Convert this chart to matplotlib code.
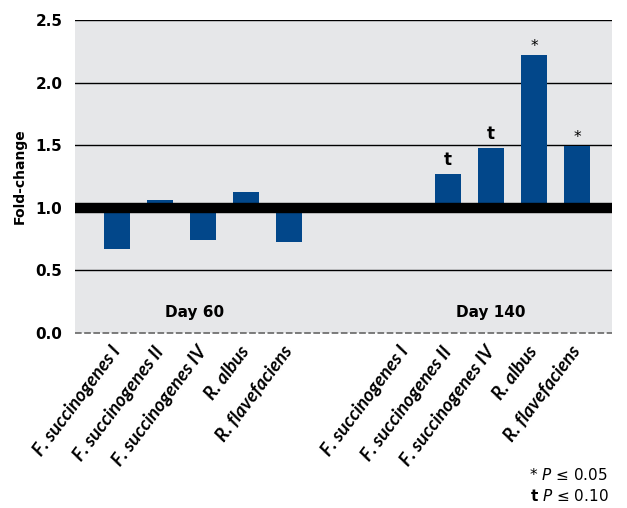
import numpy as np
import matplotlib.pyplot as plt

# Data
species = ["F. succinogenes I", "F. succinogenes II", "F. succinogenes IV",
           "R. albus", "R. flavefaciens"]
day60 = [0.67, 1.065, 0.74, 1.13, 0.73]
day140 = [1.00, 1.27, 1.48, 2.22, 1.49]
sig60 = ["", "", "", "", ""]
sig140 = ["", "t", "t", "*", "*"]

bar_color = "#02478a"
bg_color = "#e6e7e9"

x60 = np.arange(5)
x140 = np.arange(5) + 6.7
xs = np.concatenate([x60, x140])
vals = np.array(day60 + day140)
sigs = sig60 + sig140

fig = plt.figure(figsize=(6.27, 5.08), dpi=100)
ax = fig.add_axes([0.1196, 0.3445, 0.8565, 0.6161])
ax.set_facecolor(bg_color)

ax.bar(xs, vals - 1.0, bottom=1.0, width=0.6, color=bar_color, zorder=3)

# grid lines
for g in [0.5, 1.5, 2.0, 2.5]:
    ax.axhline(g, color="black", lw=1.0, zorder=2)
ax.axhline(1.0, color="black", lw=7.5, zorder=4)
ax.axhline(0.0, color="#666666", lw=1.2, ls=(0, (4, 1.5)), zorder=4, clip_on=False)

# significance markers
for x, v, s in zip(xs, vals, sigs):
    if s == "t":
        ax.text(x, v + 0.04, s, ha="center", va="bottom", fontsize=12,
                fontweight="bold", zorder=5)
    elif s == "*":
        ax.text(x, v + 0.01, s, ha="center", va="bottom", fontsize=11, zorder=5)

ax.text(1.8, 0.16, "Day 60", ha="center", va="center", fontsize=11, fontweight="bold")
ax.text(8.7, 0.16, "Day 140", ha="center", va="center", fontsize=11, fontweight="bold")

ax.set_xlim(-0.98, 11.51)
ax.set_ylim(0, 2.5)
ax.set_yticks([0.0, 0.5, 1.0, 1.5, 2.0, 2.5])
ax.set_yticklabels(["0.0", "0.5", "1.0", "1.5", "2.0", "2.5"], fontsize=11, fontweight="bold")
ax.tick_params(axis="y", length=0, pad=9)
ax.set_ylabel("Fold-change", fontsize=10, fontweight="bold", labelpad=6)

ax.set_xticks(xs)
ax.set_xticklabels(species + species, rotation=53, ha="right", va="center",
                   rotation_mode="anchor", fontsize=13.5, fontstyle="italic",
                   fontweight="bold", family="Lato")
ax.tick_params(axis="x", length=0, pad=11)

for sp in ax.spines.values():
    sp.set_visible(False)

# significance legend
fig.text(0.970, 0.065, "* $\\it{P}$ \u2264 0.05", ha="right", va="center", fontsize=11)
fig.text(0.970, 0.023, "$\\bf{t}$ $\\it{P}$ \u2264 0.10", ha="right", va="center", fontsize=11)

fig.savefig("out.png", dpi=100)
